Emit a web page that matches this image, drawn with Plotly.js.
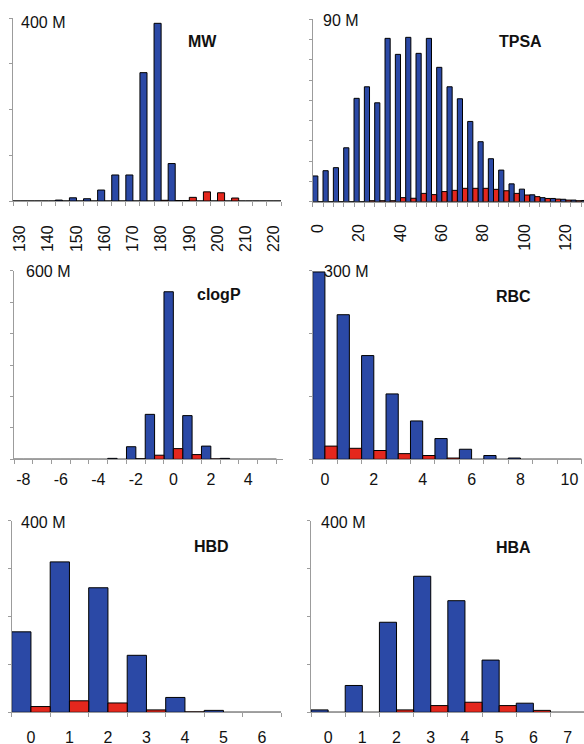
<!DOCTYPE html>
<html><head><meta charset="utf-8">
<script src="https://cdn.plot.ly/plotly-3.0.1.min.js"></script>
<style>html,body{margin:0;padding:0;background:#fff}#chart{width:584px;height:744px}</style>
</head><body><div id="chart"></div>
<script>
// ---------- DATA (values in millions) ----------
const mwBins = [130,135,140,145,150,155,160,165,170,175,180,185,190,195,200,205,210,215,220];
const mwBlue = [0,0,0,2,7,5,24,57,57,281,389,82,1,0,0,0,0,0,0];
const mwRed  = [0,0,0,0,0,0,0,0,0,0,1.5,1,8,20,18,6.5,0,0,0];
const mwTickVals = [130,140,150,160,170,180,190,200,210,220];
const mwTickText = ['130','140','150','160','170','180','190','200','210','220'];

const tpsaBins = [0,5,10,15,20,25,30,35,40,45,50,55,60,65,70,75,80,85,90,95,100,105,110,115,120,125,130];
const tpsaBlue = [12.7,15.3,16.8,26.6,51,56.7,48.8,80.6,72.7,81.1,73.2,80.6,66.3,56.7,50.8,39.6,29.6,21.2,15.6,8.8,6.2,3.4,2.0,1.6,1.2,0.8,0.6];
const tpsaRed  = [0,0,0,0,0,0.5,0.5,0.5,2,1.7,4.1,3.5,5,5.6,6.6,6.6,6.6,6.1,5.4,4.1,3.3,2.5,1.6,1.3,0.8,0.5,0];
const tpsaTickVals = [0,20,40,60,80,100,120];
const tpsaTickText = ['0','20','40','60','80','100','120'];

const clogpBins = [-8,-7,-6,-5,-4,-3,-2,-1,0,1,2,3,4,5];
const clogpBlue = [0,0,0,0,0,3,40,143,533,139,42,3,0,0];
const clogpRed  = [0,0,0,0,0,0,2,13,34,15,1.5,0,0,0];
const clogpTickVals = [-8,-6,-4,-2,0,2,4];
const clogpTickText = ['-8','-6','-4','-2','0','2','4'];

const rbcBins = [0,1,2,3,4,5,6,7,8,9,10];
const rbcBlue = [298,230,165,104,61,33,16,6,2,0,0];
const rbcRed  = [21,17.5,14,9,6,2,0,0,0,0,0];
const rbcTickVals = [0,2,4,6,8,10];
const rbcTickText = ['0','2','4','6','8','10'];

const hbdBins = [0,1,2,3,4,5,6];
const hbdBlue = [168,314,260,119,31,4,0];
const hbdRed  = [12,24,19.5,5,1,0,0];
const hbdTickText = ['0','1','2','3','4','5','6'];

const hbaBins = [0,1,2,3,4,5,6,7];
const hbaBlue = [5,56,188,284,233,109,19,0];
const hbaRed  = [0,0,5,14,21,14,4,0];
const hbaTickText = ['0','1','2','3','4','5','6','7'];

const panelTitles = ['MW','TPSA','clogP','RBC','HBD','HBA'];
const topLabels = ['400 M','90 M','600 M','300 M','400 M','400 M'];
const yMaxes = [400,90,600,300,400,400];
const yDticks = [100,10,100,100,100,100];

// ---------- LAYOUT / STYLE ----------
const W = 584, H = 744;
const px = v => v / W, py = v => 1 - v / H;
const BLUE = '#2b49a6', RED = '#e4271d', AXIS = '#9c9c9c';
const FONT = 'Liberation Sans, Arial, sans-serif';

const panels = [
  {bins: mwBins, blue: mwBlue, red: mwRed, tv: mwTickVals, tt: mwTickText, angle: -90, box: [13, 281, 18.3, 201], step: 5, lab: 17, title: [202.5, 42], top: [19, 23]},
  {bins: tpsaBins, blue: tpsaBlue, red: tpsaRed, tv: tpsaTickVals, tt: tpsaTickText, angle: -90, box: [312.7, 584, 19.3, 201.7], step: 5, xr: [-2.5, 128.8], lab: 15, title: [520.5, 41.5], top: [321, 21]},
  {bins: clogpBins, blue: clogpBlue, red: clogpRed, tv: clogpTickVals, tt: clogpTickText, angle: 0, box: [14, 283, 270.7, 459.3], step: 1, xr: [-8.5, 5.85], lab: 5, title: [218.5, 294], top: [24, 271.5]},
  {bins: rbcBins, blue: rbcBlue, red: rbcRed, tv: rbcTickVals, tt: rbcTickText, angle: 0, box: [312.7, 581.6, 270.7, 459.3], step: 1, lab: 5, title: [513.5, 296], top: [322, 271]},
  {bins: hbdBins, blue: hbdBlue, red: hbdRed, tv: hbdBins, tt: hbdTickText, angle: 0, box: [11.7, 281.2, 520.7, 712.3], step: 1, lab: 10, title: [211.5, 546], top: [19, 522.5]},
  {bins: hbaBins, blue: hbaBlue, red: hbaRed, tv: hbaBins, tt: hbaTickText, angle: 0, box: [311, 584, 520.7, 712.3], step: 1, xr: [-0.5, 7.48], lab: 10, title: [513.5, 547], top: [319, 522.5]}
];

const data = [];
const layout = {
  width: W, height: H,
  margin: {l: 0, r: 0, t: 0, b: 0},
  paper_bgcolor: '#ffffff', plot_bgcolor: 'rgba(0,0,0,0)',
  barmode: 'group', bargap: 0, bargroupgap: 0,
  showlegend: false,
  annotations: []
};

panels.forEach((p, i) => {
  const n = i === 0 ? '' : String(i + 1);
  const xa = 'x' + n, ya = 'y' + n;
  const [x0, x1, yt, yb] = p.box;
  const range = p.xr || [p.bins[0] - p.step / 2, p.bins[p.bins.length - 1] + p.step / 2];
  const bounds = p.bins.map(b => b - p.step / 2).concat([p.bins[p.bins.length - 1] + p.step / 2]);

  data.push({type: 'bar', x: p.bins, y: p.blue, xaxis: xa, yaxis: ya,
    marker: {color: BLUE, line: {color: '#000', width: 1}}, hoverinfo: 'skip'});
  data.push({type: 'bar', x: p.bins, y: p.red, xaxis: xa, yaxis: ya,
    marker: {color: RED, line: {color: '#000', width: 1}}, hoverinfo: 'skip'});

  layout['xaxis' + n] = {
    domain: [px(x0), px(x1)], range: range, anchor: ya,
    showline: true, linecolor: AXIS, linewidth: 1,
    showgrid: false, zeroline: false, fixedrange: true,
    tickmode: 'array', tickvals: p.tv, ticktext: p.tt, tickangle: p.angle,
    ticks: 'outside', ticklen: p.lab, tickcolor: 'rgba(0,0,0,0)',
    tickfont: {family: FONT, size: 16, color: '#111'},
    minor: {tickmode: 'array', tickvals: bounds, ticks: 'outside', ticklen: 4, tickcolor: AXIS, tickwidth: 1, showgrid: false}
  };
  layout['yaxis' + n] = {
    domain: [py(yb), py(yt)], range: [0, yMaxes[i]], anchor: xa,
    showline: true, linecolor: AXIS, linewidth: 1,
    showgrid: false, zeroline: false, fixedrange: true,
    tickmode: 'linear', tick0: 0, dtick: yDticks[i],
    ticks: 'outside', ticklen: 3, tickcolor: AXIS, showticklabels: false
  };

  layout.annotations.push({
    text: '<b>' + panelTitles[i] + '</b>', xref: 'paper', yref: 'paper',
    x: px(p.title[0]), y: py(p.title[1]), xanchor: 'center', yanchor: 'middle',
    showarrow: false, font: {family: FONT, size: 16, color: '#111'}
  });
  layout.annotations.push({
    text: topLabels[i], xref: 'paper', yref: 'paper',
    x: px(p.top[0]), y: py(p.top[1]), xanchor: 'left', yanchor: 'middle',
    showarrow: false, font: {family: FONT, size: 16, color: '#111'}
  });
});

Plotly.newPlot('chart', data, layout, {staticPlot: true, displayModeBar: false});
</script>
</body></html>
